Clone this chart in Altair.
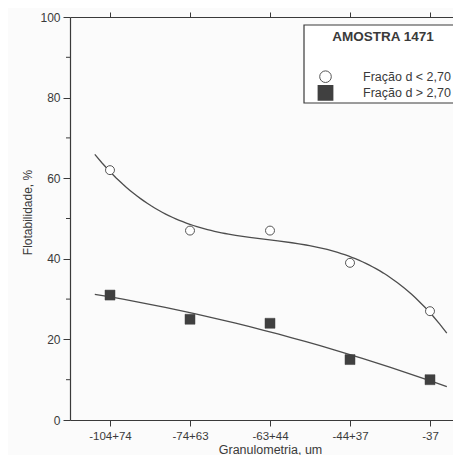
import json
import altair as alt
import pandas as pd

# ---- data ----
granulometria = ["-104+74", "-74+63", "-63+44", "-44+37", "-37"]
fractions = ["Fração d < 2,70", "Fração d > 2,70"]
light = [62, 47, 47, 39, 27]   # open circles
heavy = [31, 25, 24, 15, 10]   # filled squares
major_ticks = [0, 20, 40, 60, 80, 100]
minor_ticks = [10, 30, 50, 70, 90]
legend_title = "AMOSTRA 1471"
x_title = "Granulometria, um"
y_title = "Flotabilidade, %"

rows = []
for i, v in enumerate(light):
    rows.append({"x": i, "y": v, "serie": fractions[0]})
for i, v in enumerate(heavy):
    rows.append({"x": i, "y": v, "serie": fractions[1]})
df = pd.DataFrame(rows)

INK = "#3a3a3a"
LINE = "#4d4d4d"
FONT = "Liberation Sans"

xscale = alt.Scale(domain=[-0.5, 4.2875], nice=False, zero=False)
yscale = alt.Scale(domain=[0, 100], nice=False, zero=True)

label_expr = json.dumps(granulometria) + "[datum.value]"

bottom_axis = alt.Axis(
    orient="bottom", values=list(range(len(granulometria))), labelExpr=label_expr,
    tickSize=6, labelPadding=4, labelFontSize=11.5, labelColor=INK,
    title=x_title, titleFontSize=12.5, titleFontWeight="normal", titleColor=INK,
    titleX=200, titleY=33, titleBaseline="alphabetic",
    domainColor=INK, tickColor=INK, labelFlush=False,
)
top_axis = alt.Axis(
    orient="top", values=list(range(len(granulometria))), labels=False,
    tickSize=5, title=None, domainColor=INK, tickColor=INK,
)
left_axis = alt.Axis(
    orient="left", values=major_ticks, tickSize=7,
    labelPadding=3, labelFontSize=12, labelColor=INK,
    title=y_title, titleFontSize=12, titleFontWeight="normal", titleColor=INK,
    titlePadding=5, titleY=195,
    domainColor=INK, tickColor=INK, labelOverlap=False, labelFlush=False,
)

base = alt.Chart(df)

curve_light = (
    base.transform_filter(alt.datum.serie == fractions[0])
    .transform_regression("x", "y", method="poly", order=3, extent=[-0.19, 4.21])
    .mark_line(color=LINE, strokeWidth=1.3)
    .encode(x=alt.X("x:Q", scale=xscale, axis=bottom_axis),
            y=alt.Y("y:Q", scale=yscale, axis=left_axis))
)
curve_heavy = (
    base.transform_filter(alt.datum.serie == fractions[1])
    .transform_regression("x", "y", method="poly", order=2, extent=[-0.19, 4.21])
    .mark_line(color=LINE, strokeWidth=1.3)
    .encode(x=alt.X("x:Q", scale=xscale, axis=None),
            y=alt.Y("y:Q", scale=yscale, axis=None))
)
pts_light = (
    base.transform_filter(alt.datum.serie == fractions[0])
    .mark_point(shape="circle", filled=True, fill="white", stroke="#555555",
                strokeWidth=1, size=80, opacity=1)
    .encode(x=alt.X("x:Q", scale=xscale, axis=None),
            y=alt.Y("y:Q", scale=yscale, axis=None))
)
pts_heavy = (
    base.transform_filter(alt.datum.serie == fractions[1])
    .mark_point(shape="square", filled=True, fill="#404040", stroke="#404040",
                strokeWidth=0.5, size=100, opacity=1)
    .encode(x=alt.X("x:Q", scale=xscale, axis=None),
            y=alt.Y("y:Q", scale=yscale, axis=None))
)
top = (
    base.mark_point(opacity=0)
    .encode(x=alt.X("x:Q", scale=xscale, axis=top_axis),
            y=alt.Y("y:Q", scale=yscale, axis=None))
)
minor = (
    alt.Chart(pd.DataFrame({"v": minor_ticks}))
    .mark_rule(color=INK, strokeWidth=1)
    .encode(y=alt.Y("v:Q", scale=yscale, axis=None), x=alt.value(-4), x2=alt.value(0))
)

one = pd.DataFrame({"t": [legend_title]})
leg_box = alt.Chart(one).mark_rect(fill="white", stroke=INK, strokeWidth=1.2).encode(
    x=alt.value(234), x2=alt.value(405), y=alt.value(8), y2=alt.value(86))
leg_title = alt.Chart(one).mark_text(
    font=FONT, fontSize=13.5, fontWeight="bold", color=INK, align="center", baseline="middle"
).encode(x=alt.value(313), y=alt.value(20), text="t:N")
leg_c = alt.Chart(one).mark_point(shape="circle", filled=True, fill="white", stroke="#555555",
                                  strokeWidth=1, size=135, opacity=1).encode(
    x=alt.value(255.5), y=alt.value(59.7))
leg_s = alt.Chart(one).mark_point(shape="square", filled=True, fill="#404040", stroke="#404040",
                                  size=190, opacity=1).encode(
    x=alt.value(255.5), y=alt.value(75.8))
leg_t1 = alt.Chart(pd.DataFrame({"t": [fractions[0]]})).mark_text(
    font=FONT, fontSize=12.5, color=INK, align="left", baseline="middle"
).encode(x=alt.value(293), y=alt.value(59.5), text="t:N")
leg_t2 = alt.Chart(pd.DataFrame({"t": [fractions[1]]})).mark_text(
    font=FONT, fontSize=12.5, color=INK, align="left", baseline="middle"
).encode(x=alt.value(293), y=alt.value(76), text="t:N")

chart = (
    alt.layer(curve_light, curve_heavy, pts_light, pts_heavy, top, minor,
              leg_box, leg_title, leg_c, leg_s, leg_t1, leg_t2)
    .resolve_axis(x="independent", y="independent")
    .properties(width=383, height=403, autosize="none",
                padding={"left": 62, "top": 9, "right": 0, "bottom": 35},
                background="#fbfbfb")
    .configure_view(stroke=None)
    .configure_axis(grid=False, labelFont=FONT, titleFont=FONT, domainWidth=1.2, tickWidth=1)
)

chart.save("out.html", embed_options={"renderer": "svg", "actions": False})
